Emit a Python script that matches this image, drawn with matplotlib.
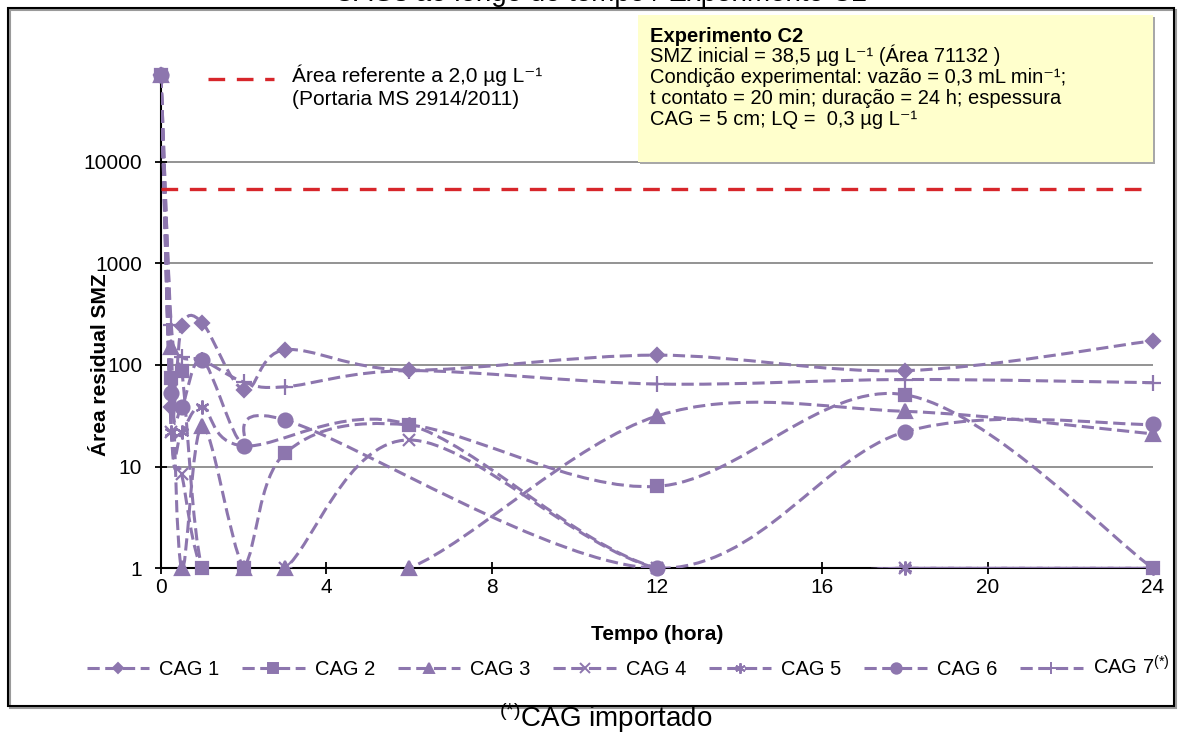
import numpy as np
import matplotlib
matplotlib.use('Agg')
import matplotlib.pyplot as plt
from matplotlib.path import Path
from matplotlib.patches import PathPatch, Rectangle
from matplotlib.lines import Line2D
from matplotlib.ticker import NullLocator

plt.rcParams['font.family'] = ['Liberation Sans', 'DejaVu Sans']
plt.rcParams['mathtext.fontset'] = 'custom'
plt.rcParams['mathtext.rm'] = 'Liberation Sans'
plt.rcParams['mathtext.it'] = 'Liberation Sans:italic'
plt.rcParams['mathtext.bf'] = 'Liberation Sans:bold'

nan = np.nan

# tempos de coleta (hora)
tempo = [0, 0.25, 0.5, 1, 2, 3, 6, 12, 18, 24]

# área residual de SMZ por coluna de CAG
cag1 = [71132, 39, 240, 260, 57, 141, 89, 125, 88, 173]
cag2 = [71132, 75, 87, 1, 1, 13.5, 25.7, 6.4, 51, 1]
cag3 = [71132, 150, 1, 25, 1, 1, 1, 31.5, 35, 21]
cag4 = [71132, 22, 8.4, 1, 1, 1, 18.3, 1, 1, 1]
cag5 = [71132, 22, 22, 39, 16, nan, 26, 1, 1, 1]
cag6 = [71132, 53, 39, 112, 16, 28.8, nan, 1, 22, 26]
cag7 = [71132, 245, 121, 112, 68, 61, 88, 65, 72, 67]

series = [cag1, cag2, cag3, cag4, cag5, cag6, cag7]
rotulos = ['CAG 1', 'CAG 2', 'CAG 3', 'CAG 4', 'CAG 5', 'CAG 6', 'CAG 7$^{(*)}$']

# área equivalente a 2,0 ug/L (Portaria MS 2914/2011)
area_ref = 5400

roxo = '#8D76AE'
vermelho = '#D7262B'
marcadores = ['D', 's', '^', 'x', (6, 2, 0), 'o', '+']
tam_marc = [7, 9, 10, 9, 10, 10, 11]

W, H = 1202, 733


def fx(px):
    return px / W


def fy(py):
    return 1 - py / H


def curva_suave(t, v):
    # linha suavizada (bezier) em escala log, como a do Excel
    pts = np.array([(ti, np.log10(vi)) for ti, vi in zip(t, v) if not np.isnan(vi)])
    n = len(pts)
    verts = [pts[0]]
    codes = [Path.MOVETO]
    for i in range(n - 1):
        p0 = pts[max(i - 1, 0)]
        p1 = pts[i]
        p2 = pts[i + 1]
        p3 = pts[min(i + 2, n - 1)]
        verts += [p1 + (p2 - p0) / 6, p2 - (p3 - p1) / 6, p2]
        codes += [Path.CURVE4] * 3
    verts = np.array(verts)
    verts[:, 1] = 10 ** verts[:, 1]
    return Path(verts, codes)


fig = plt.figure(figsize=(12.02, 7.33), dpi=100)

ax = fig.add_axes([fx(161), fy(568.3), (1153 - 161) / W, (568.3 - 69.9) / H])
ax.set_yscale('log')
ax.set_xlim(0, 24)
ax.set_ylim(1, 80000)
ax.set_yticks([1, 10, 100, 1000, 10000])
ax.set_yticklabels(['1', '10', '100', '1000', '10000'])
ax.yaxis.set_minor_locator(NullLocator())
ax.set_xticks(range(0, 25, 4))
ax.tick_params(direction='inout', length=8, width=1.3, labelsize=15, colors='black')
ax.tick_params(axis='y', pad=9.5)
ax.tick_params(axis='x', pad=3)
ax.grid(axis='y', color='#8a8a8a', lw=1.3)
ax.set_axisbelow(True)
for lado in ['top', 'right']:
    ax.spines[lado].set_visible(False)
for lado in ['left', 'bottom']:
    ax.spines[lado].set_linewidth(1.5)

# curvas e marcadores de cada CAG
for serie, m, ms in zip(series, marcadores, tam_marc):
    ax.add_patch(PathPatch(curva_suave(tempo, serie), fill=False, edgecolor=roxo,
                           lw=2.2, linestyle=(0, (4, 1.8)), zorder=3))
    ax.plot(tempo, serie, ls='none', marker=m, ms=ms, color=roxo, mec=roxo,
            mew=1.6, zorder=4, clip_on=False)

# linha de referência
ax.axhline(area_ref, color=vermelho, lw=2.4, ls=(0, (5, 3.5)), zorder=5)
fig.add_artist(Line2D([fx(208), fx(274)], [fy(79), fy(79)], color=vermelho, lw=2.4,
                      ls=(0, (5, 3.5))))
fig.text(fx(292), fy(82), 'Área referente a 2,0 µg L⁻¹', fontsize=15, va='baseline')
fig.text(fx(292), fy(105), '(Portaria MS 2914/2011)', fontsize=15, va='baseline')

# quadro do experimento
fig.add_artist(Rectangle((fx(640), fy(164)), 515 / W, 147 / H, transform=fig.transFigure,
                         fc='#a8a8a8', ec='none'))
fig.add_artist(Rectangle((fx(638), fy(162)), 515 / W, 147 / H, transform=fig.transFigure,
                         fc='#FFFFCC', ec='none'))
fig.text(fx(650), fy(42), 'Experimento C2', fontsize=14.5, fontweight='bold', va='baseline')
linhas = ['SMZ inicial = 38,5 µg L⁻¹ (Área 71132 )',
          'Condição experimental: vazão = 0,3 mL min⁻¹;',
          't contato = 20 min; duração = 24 h; espessura',
          'CAG = 5 cm; LQ =  0,3 µg L⁻¹']
for i, txt in enumerate(linhas):
    fig.text(fx(650), fy(62.5 + 20.7 * i), txt, fontsize=14.5, va='baseline')

# rótulos dos eixos
fig.text(fx(100), fy(365), 'Área residual SMZ', rotation=90, ha='center', va='center',
         fontsize=15, fontweight='bold')
fig.text(fx(657), fy(635), 'Tempo (hora)', ha='center', va='center',
         fontsize=15, fontweight='bold')

# legenda
alcas = [Line2D([], [], color=roxo, lw=2.2, ls=(0, (4, 1.8)), marker=m, ms=ms * 0.75,
                mec=roxo, mew=1.4) for m, ms in zip(marcadores, tam_marc)]
fig.legend(alcas, rotulos, loc='center', bbox_to_anchor=(fx(628), fy(667)), ncol=7,
           frameon=False, fontsize=14.5, handlelength=3.1, handletextpad=0.5,
           columnspacing=1.13)

# moldura e título
fig.add_artist(Rectangle((fx(10), fy(708)), 1166 / W, 698 / H, transform=fig.transFigure,
                         fill=False, ec='#9a9a9a', lw=1.5))
fig.add_artist(Rectangle((fx(8), fy(706)), 1166 / W, 698 / H, transform=fig.transFigure,
                         fill=False, ec='black', lw=1.5))
fig.text(fx(601), fy(1), 'CAGs ao longo do tempo / Experimento C2', ha='center',
         va='baseline', fontsize=20)
fig.text(fx(606), fy(727), '$^{(*)}$CAG importado', ha='center', va='baseline', fontsize=20)

fig.savefig('out.png', dpi=100)
